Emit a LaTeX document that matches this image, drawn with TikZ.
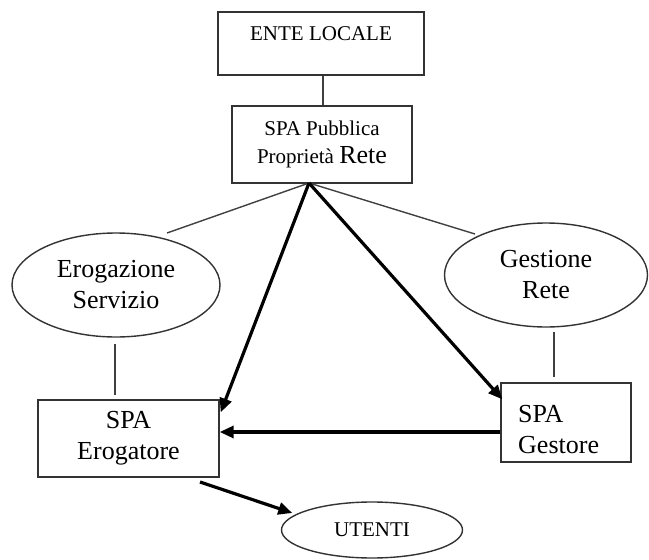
\documentclass[tikz,border=0pt]{standalone}
\usepackage{fontspec}
\setmainfont{Liberation Serif}
\usetikzlibrary{calc,arrows.meta,shapes.geometric}
\begin{document}
\begin{tikzpicture}[x=1pt,y=-1pt,
  boxnode/.style={draw=black!80,line width=1.4pt,rectangle,inner sep=0pt},
  ellnode/.style={draw=black!80,line width=1.4pt,ellipse,inner sep=0pt},
  thinline/.style={draw=black!75,line width=1.4pt},
  thickarrow/.style={draw=black,line width=3.2pt,-{Triangle[length=14pt,width=12pt]}},
  smalltxt/.style={font=\fontsize{21}{28}\selectfont,align=center},
  bigtxt/.style={font=\fontsize{26}{31}\selectfont,align=center}]
\useasboundingbox (0,0) rectangle (649,560);
% boxes
\node[boxnode,minimum width=206pt,minimum height=63pt] (ente) at (321,43.5) {};
\node[smalltxt] (entetxt) at (321,34) {ENTE LOCALE};
\node[boxnode,minimum width=180pt,minimum height=77pt,smalltxt] (pub) at (322,144.5)
  {SPA Pubblica\\Propriet\`a {\fontsize{26}{28}\selectfont Rete}};
\node[ellnode,minimum width=208pt,minimum height=104pt,bigtxt] (ero) at (116,285) {Erogazione\\Servizio};
\node[ellnode,minimum width=203pt,minimum height=104pt,bigtxt] (ges) at (546,275) {Gestione\\Rete};
\node[boxnode,minimum width=181pt,minimum height=77pt,bigtxt] (erog) at (128.5,438.5) {SPA\\Erogatore};
\node[boxnode,minimum width=130pt,minimum height=79pt] (gest) at (566,422.5) {};
\node[bigtxt,align=left,anchor=west,inner sep=0pt] (gesttxt) at (518,430) {SPA\\Gestore};
\node[ellnode,minimum width=181pt,minimum height=56pt,smalltxt] (ute) at (372,530) {UTENTI};
% coordinates
\coordinate (apex) at (309,183);
\coordinate (eroend) at (167,233);
\coordinate (gesend) at (475,234);
% thin connectors
\draw[thinline] (ente.south -| 323,0) -- (pub.north -| 323,0);
\draw[thinline] (apex) -- (eroend);
\draw[thinline] (apex) -- (gesend);
\draw[thinline] (115,344) coordinate (e1) -- (115,395) coordinate (e2);
\draw[thinline] (554,332) coordinate (g1) -- (554,377) coordinate (g2);
% thick arrows
\draw[thickarrow] (apex) -- ($(erog.north east)+(1,13)$);
\draw[thickarrow] (apex) -- ($(gest.north west)+(2,17)$);
\draw[thickarrow] (gest.west |- 0,432) -- (erog.east |- 0,432);
\draw[thickarrow] (200,482) -- ($(ute.west)+(11.5,-17)$);
\end{tikzpicture}
\end{document}
